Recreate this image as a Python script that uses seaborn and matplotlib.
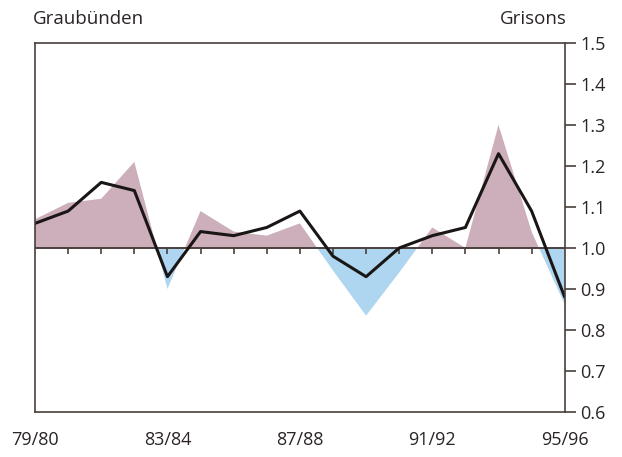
import numpy as np
import seaborn as sns
import matplotlib.pyplot as plt

# Season labels and values
seasons = ["79/80", "80/81", "81/82", "82/83", "83/84", "84/85", "85/86", "86/87",
           "87/88", "88/89", "89/90", "90/91", "91/92", "92/93", "93/94", "94/95", "95/96"]
area_vals = [1.07, 1.11, 1.12, 1.21, 0.90, 1.09, 1.04, 1.03, 1.06,
             0.945, 0.835, 0.94, 1.05, 1.00, 1.30, 1.04, 0.86]
line_vals = [1.06, 1.09, 1.16, 1.14, 0.93, 1.04, 1.03, 1.05, 1.09,
             0.98, 0.93, 1.00, 1.03, 1.05, 1.23, 1.09, 0.88]
label_seasons = ["79/80", "83/84", "87/88", "91/92", "95/96"]
y_ticks = [0.6, 0.7, 0.8, 0.9, 1.0, 1.1, 1.2, 1.3, 1.4, 1.5]

sns.set_style("white")
plt.rcParams["font.family"] = ["Open Sans", "DejaVu Sans"]

x = np.arange(len(seasons))
area = np.array(area_vals)
frame = "#4a3f3c"
txt = "#2a2424"

fig = plt.figure(figsize=(6.22, 4.57), dpi=100)
ax = fig.add_axes([0.0563, 0.0985, 0.8516, 0.8075])

ax.fill_between(x, 1.0, area, where=area >= 1.0, interpolate=True,
                color="#cdaebb", linewidth=0)
ax.fill_between(x, 1.0, area, where=area <= 1.0, interpolate=True,
                color="#afd6f0", linewidth=0)
ax.axhline(1.0, color=frame, linewidth=1.4)
ax.vlines(x[1:-1], 0.985, 1.0, color=frame, linewidth=1.2)
sns.lineplot(x=x, y=line_vals, ax=ax, color="#1a1616", linewidth=2.2)

ax.set_xlim(0, len(seasons) - 1)
ax.set_ylim(0.6, 1.5)

ax.set_xticks([seasons.index(s) for s in label_seasons])
ax.set_xticklabels(label_seasons)
ax.tick_params(axis="x", length=0, pad=14, labelsize=13, colors=txt)

ax.yaxis.tick_right()
ax.set_yticks(y_ticks)
ax.set_yticklabels([f"{v:.1f}" for v in y_ticks])
ax.tick_params(axis="y", right=True, direction="out", length=8, width=1.2,
               color=frame, pad=3, labelsize=13, labelcolor=txt)

for sp in ax.spines.values():
    sp.set_color(frame)
    sp.set_linewidth(1.2)
    sp.set_visible(True)

fig.text(0.053, 0.958, "Graubünden", ha="left", va="center", fontsize=13.5, color=txt)
fig.text(0.911, 0.958, "Grisons", ha="right", va="center", fontsize=13.5, color=txt)

fig.savefig("out.png", dpi=100)
